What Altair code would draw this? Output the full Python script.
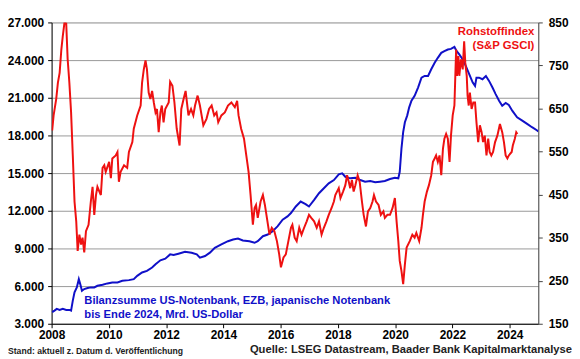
import altair as alt
import pandas as pd

FONT = "Liberation Sans"

# Commodity index (S&P GSCI), right axis
red_years = [2008.02, 2008.07, 2008.16, 2008.22, 2008.28, 2008.34, 2008.39, 2008.45, 2008.51, 2008.56,
             2008.62, 2008.68, 2008.74, 2008.80, 2008.86, 2008.91, 2008.97, 2009.03, 2009.08, 2009.14,
             2009.20, 2009.29, 2009.37, 2009.43, 2009.49, 2009.55, 2009.60, 2009.72, 2009.78, 2009.84,
             2009.89, 2010.01, 2010.07, 2010.12, 2010.24, 2010.30, 2010.35, 2010.41, 2010.53, 2010.64,
             2010.70, 2010.82, 2010.87, 2010.99, 2011.11, 2011.16, 2011.22, 2011.28, 2011.33, 2011.39,
             2011.45, 2011.51, 2011.57, 2011.63, 2011.68, 2011.74, 2011.80, 2011.85, 2011.91, 2011.97,
             2012.09, 2012.14, 2012.22, 2012.29, 2012.37, 2012.47, 2012.53, 2012.61, 2012.68, 2012.78,
             2012.87, 2012.95, 2013.01, 2013.10, 2013.18, 2013.30, 2013.41, 2013.50, 2013.59, 2013.68,
             2013.76, 2013.82, 2013.93, 2014.05, 2014.16, 2014.28, 2014.40, 2014.48, 2014.53, 2014.62,
             2014.72, 2014.80, 2014.88, 2014.95, 2015.03, 2015.09, 2015.14, 2015.20, 2015.30, 2015.38,
             2015.45, 2015.52, 2015.61, 2015.69, 2015.78, 2015.87, 2015.95, 2016.01, 2016.10, 2016.18,
             2016.27, 2016.36, 2016.41, 2016.49, 2016.56, 2016.65, 2016.73, 2016.82, 2016.91, 2016.99,
             2017.07, 2017.17, 2017.26, 2017.34, 2017.43, 2017.51, 2017.60, 2017.68, 2017.78, 2017.86,
             2017.91, 2018.03, 2018.09, 2018.18, 2018.26, 2018.32, 2018.38, 2018.43, 2018.49, 2018.55,
             2018.61, 2018.69, 2018.76, 2018.84, 2018.90, 2018.98, 2019.05, 2019.13, 2019.21, 2019.26,
             2019.33, 2019.42, 2019.50, 2019.59, 2019.64, 2019.73, 2019.82, 2019.91, 2019.99, 2020.05,
             2020.11, 2020.16, 2020.22, 2020.28, 2020.34, 2020.40, 2020.51, 2020.60, 2020.68, 2020.74,
             2020.84, 2020.92, 2020.97, 2021.03, 2021.11, 2021.18, 2021.26, 2021.32, 2021.38, 2021.43,
             2021.49, 2021.55, 2021.61, 2021.67, 2021.72, 2021.78, 2021.84, 2021.90, 2021.95, 2022.01,
             2022.07, 2022.13, 2022.16, 2022.21, 2022.24, 2022.30, 2022.36, 2022.41, 2022.45, 2022.50,
             2022.53, 2022.57, 2022.61, 2022.67, 2022.73, 2022.79, 2022.84, 2022.90, 2022.96, 2023.02,
             2023.07, 2023.13, 2023.19, 2023.25, 2023.30, 2023.36, 2023.42, 2023.49, 2023.57, 2023.66,
             2023.74, 2023.80, 2023.86, 2023.92, 2023.97, 2024.07, 2024.11, 2024.18, 2024.23, 2024.27]
red_values = [599, 634, 672, 710, 733, 787, 818, 850, 848, 765,
              710, 641, 541, 434, 388, 319, 357, 334, 350, 316,
              365, 380, 434, 468, 403, 449, 468, 449, 512, 518,
              503, 526, 488, 534, 541, 549, 480, 503, 518, 512,
              549, 572, 603, 634, 657, 710, 741, 762, 741, 687,
              672, 691, 664, 641, 649, 595, 641, 657, 618, 649,
              664, 712, 703, 664, 603, 564, 649, 672, 691, 634,
              649, 634, 657, 680, 657, 611, 626, 649, 657, 634,
              641, 618, 634, 641, 657, 664, 653, 668, 634, 603,
              580, 541, 503, 449, 380, 419, 426, 396, 434, 449,
              426, 396, 357, 373, 365, 342, 311, 281, 304, 311,
              342, 373, 380, 350, 342, 373, 357, 373, 388, 403,
              396, 388, 373, 388, 357, 373, 388, 403, 419, 434,
              449, 465, 442, 457, 472, 495, 480, 465, 484, 457,
              472, 495, 480, 434, 403, 376, 411, 419, 434, 449,
              434, 426, 403, 411, 396, 403, 403, 419, 442, 388,
              342, 296, 273, 242, 288, 327, 342, 357, 350, 361,
              342, 373, 403, 434, 457, 472, 495, 526, 534, 541,
              526, 541, 495, 557, 580, 591, 580, 526, 587, 634,
              657, 787, 726, 772, 726, 764, 741, 806, 756, 726,
              680, 657, 687, 649, 664, 664, 618, 572, 611, 595,
              572, 587, 541, 580, 549, 541, 549, 572, 587, 614,
              595, 572, 541, 534, 541, 549, 564, 580, 595, 591]

# Balance sheet total Fed + ECB + BoJ, bn USD, left axis
blue_years = [2008.02, 2008.10, 2008.18, 2008.28, 2008.39, 2008.51, 2008.62, 2008.68, 2008.74, 2008.80,
              2008.88, 2008.95, 2009.00, 2009.06, 2009.14, 2009.26, 2009.37, 2009.49, 2009.60, 2009.78,
              2009.95, 2010.12, 2010.30, 2010.47, 2010.70, 2010.87, 2010.99, 2011.16, 2011.33, 2011.51,
              2011.63, 2011.80, 2011.97, 2012.14, 2012.26, 2012.43, 2012.66, 2012.89, 2013.07, 2013.18,
              2013.36, 2013.53, 2013.70, 2013.93, 2014.16, 2014.34, 2014.51, 2014.68, 2014.91, 2015.09,
              2015.20, 2015.38, 2015.55, 2015.72, 2015.89, 2016.07, 2016.24, 2016.36, 2016.53, 2016.70,
              2016.87, 2016.99, 2017.17, 2017.34, 2017.51, 2017.68, 2017.86, 2018.03, 2018.15, 2018.26,
              2018.43, 2018.61, 2018.78, 2018.95, 2019.13, 2019.30, 2019.47, 2019.64, 2019.82, 2019.99,
              2020.11, 2020.16, 2020.22, 2020.28, 2020.34, 2020.42, 2020.49, 2020.57, 2020.68, 2020.80,
              2020.92, 2021.03, 2021.15, 2021.26, 2021.38, 2021.49, 2021.61, 2021.72, 2021.84, 2021.95,
              2022.07, 2022.15, 2022.24, 2022.36, 2022.47, 2022.59, 2022.71, 2022.79, 2022.84, 2022.93,
              2023.05, 2023.17, 2023.28, 2023.40, 2023.51, 2023.63, 2023.74, 2023.86, 2023.97, 2024.09,
              2024.26, 2024.44, 2024.61, 2024.78, 2024.96, 2025.00]
blue_values = [3924, 4050, 4184, 4105, 4184, 4105, 4105, 4050, 4839, 5503,
               5897, 6553, 6158, 5629, 5763, 5842, 5897, 5897, 6024, 6103,
               6213, 6292, 6292, 6418, 6474, 6553, 6813, 7082, 7208, 7476,
               7737, 8053, 8187, 8526, 8471, 8582, 8739, 8661, 8526, 8266,
               8392, 8661, 9055, 9316, 9576, 9711, 9789, 9632, 9576, 9450,
               9576, 9971, 10105, 10366, 10760, 11289, 11550, 11818, 12339, 12734,
               12529, 12339, 12868, 13397, 13792, 14187, 14447, 14897, 14976, 14708,
               14582, 14629, 14447, 14313, 14368, 14266, 14313, 14368, 14526, 14629,
               14582, 15103, 16950, 18261, 19050, 19579, 20234, 20763, 21158, 21813,
               22603, 22737, 22737, 23266, 23787, 24182, 24576, 24711, 24845, 24892,
               25050, 24711, 24450, 24055, 23526, 22871, 22208, 21947, 22603, 22603,
               22476, 22737, 22342, 21813, 21292, 20763, 20368, 20582, 20424, 19974,
               19445, 19184, 18924, 18655, 18395, 18316]

year_ticks = [2008, 2010, 2012, 2014, 2016, 2018, 2020, 2022, 2024]
left_ticks = [3000, 6000, 9000, 12000, 15000, 18000, 21000, 24000, 27000]
right_ticks = [150, 250, 350, 450, 550, 650, 750, 850]

blue_df = pd.DataFrame({"year": blue_years, "value": blue_values})
red_df = pd.DataFrame({"year": red_years, "value": red_values})

W, H = 491, 304

x_enc = alt.X(
    "year:Q",
    scale=alt.Scale(domain=[2008, 2025], nice=False, zero=False),
    axis=alt.Axis(values=year_ticks, format="d", title=None, grid=False,
                  labelFlush=False, labelOverlap=False,
                  labelFontSize=12, labelFontWeight="bold", labelFont=FONT,
                  labelColor="#000", tickSize=4, labelPadding=2,
                  domainColor="#000", tickColor="#000"),
)

blue = alt.Chart(blue_df).mark_line(color="#1010C8", strokeWidth=2, clip=True).encode(
    x=x_enc,
    y=alt.Y("value:Q",
            scale=alt.Scale(domain=[3000, 27000], nice=False, zero=False),
            axis=alt.Axis(values=left_ticks, orient="left", title=None, grid=True,
                          gridColor="#999999", gridWidth=1,
                          labelFlush=False, labelOverlap=False,
                          labelExpr="replace(format(datum.value, ','), ',', '.')",
                          labelFontSize=12, labelFontWeight="bold", labelFont=FONT,
                          labelColor="#000", tickSize=4, labelPadding=4,
                          domainColor="#000", tickColor="#000")),
)

red = alt.Chart(red_df).mark_line(color="#EE1111", strokeWidth=2, clip=True).encode(
    x=x_enc,
    y=alt.Y("value:Q",
            scale=alt.Scale(domain=[150, 850], nice=False, zero=False),
            axis=alt.Axis(values=right_ticks, orient="right", title=None, grid=False,
                          labelFlush=False, labelOverlap=False,
                          labelFontSize=12, labelFontWeight="bold", labelFont=FONT,
                          labelColor="#000", tickSize=4, labelPadding=6,
                          domainColor="#444", tickColor="#444")),
)

one = pd.DataFrame({"a": [0]})


def label(text, x, y, color, size, align):
    return alt.Chart(one).mark_text(
        text=text, color=color, font=FONT, fontWeight="bold", fontSize=size,
        align=align, baseline="middle",
    ).encode(x=alt.value(x), y=alt.value(y))


texts = [
    label("Rohstoffindex", 487, 10, "#EE1111", 11.5, "right"),
    label("(S&P GSCI)", 487, 24, "#EE1111", 11.5, "right"),
    label("Bilanzsumme US-Notenbank, EZB, japanische Notenbank", 33, 281, "#1010C8", 11.3, "left"),
    label("bis Ende 2024, Mrd. US-Dollar", 33, 295, "#1010C8", 11.3, "left"),
    label("Quelle: LSEG Datastream, Baader Bank Kapitalmarktanalyse", 525, 330.5, "#222222", 11.3, "right"),
    label("Stand: aktuell z. Datum d. Veröffentlichung", -44, 331.5, "#222222", 8.7, "left"),
]

chart = alt.layer(blue, red, *texts).resolve_scale(y="independent").properties(
    width=W, height=H,
    padding={"left": 44, "top": 13, "right": 34, "bottom": 35},
    autosize=alt.AutoSizeParams(type="none"),
).configure_view(stroke=None).configure(background="white")

chart.save("out.html", embed_options={"renderer": "svg", "actions": False})
